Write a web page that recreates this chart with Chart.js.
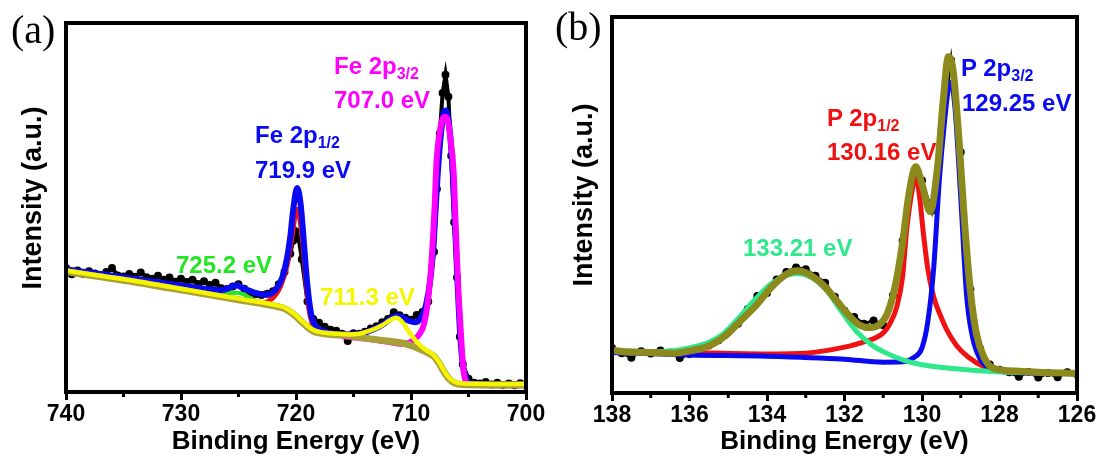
<!DOCTYPE html>
<html>
<head>
<meta charset="utf-8">
<title>XPS Fe 2p / P 2p</title>
<script src="https://cdn.jsdelivr.net/npm/chart.js@4.4.0/dist/chart.umd.min.js"></script>
<style>
  html, body { margin: 0; padding: 0; background: #fff; }
  #wrap { position: relative; width: 1102px; height: 463px; overflow: hidden; }
  canvas { position: absolute; top: 0; }
  #chartA { left: 0; }
  #chartB { left: 551px; }
  .tag { position: absolute; font-family: "Liberation Serif", "Times New Roman", serif; font-size: 40px; line-height: 40px; }
  .note { position: absolute; font-family: "Liberation Sans", Arial, sans-serif; font-weight: bold;
          font-size: 24px; line-height: 24px; white-space: nowrap; }
  .note sub { font-size: 16px; vertical-align: -5px; line-height: 0; }
</style>
</head>
<body>
<div id="wrap">
  <canvas id="chartA" width="551" height="463"></canvas>
  <canvas id="chartB" width="551" height="463"></canvas>
  <div class="tag" style="left:11px; top:10px;">(a)</div>
  <div class="tag" style="left:555px; top:7px;">(b)</div>
</div>
<script>
const FONT = "'Liberation Sans', Arial, sans-serif";

// ---- Fe 2p (panel a) ----
const feTicks = [740, 730, 720, 710, 700];
const feMinor = [735, 725, 715, 705];
const fePeaks = [707.0, 719.9, 725.2, 711.3];   // 2p3/2, 2p1/2, satellite, satellite

const feRawX = [740, 739.5, 739, 738.5, 738, 737.5, 737, 736.5, 736, 735.5, 735, 734.5, 734, 733.5, 733, 732.5,
  732, 731.5, 731, 730.5, 730, 729.5, 729, 728.5, 728, 727.5, 727, 726.5, 726, 725.5, 725, 724.5, 724, 723.5,
  723, 722.5, 722, 721.5, 721, 720.5, 720.25, 720, 719.75, 719.5, 719, 718.5, 718, 717.5, 717, 716.5, 716,
  715.5, 715, 714.5, 714, 713.5, 713, 712.5, 712, 711.5, 711, 710.5, 710, 709.5, 709, 708.5, 708, 707.75,
  707.5, 707.25, 707, 706.75, 706.5, 706.25, 706, 705.75, 705.5, 705, 704.5, 704, 703.5, 703, 702.5, 702,
  701.5, 701, 700.5, 700];
const feRawY = [33.6, 31.9, 32.9, 32.0, 32.7, 32.1, 31.6, 32.5, 33.6, 31.6, 31.3, 32.0, 31.2, 32.4, 31.1, 30.7,
  31.5, 30.4, 31.0, 29.9, 30.7, 29.8, 30.4, 29.3, 30.0, 29.0, 29.6, 28.1, 27.9, 28.6, 29.2, 28.0, 26.9, 26.5,
  26.3, 26.6, 27.3, 29.2, 32.5, 37.5, 41.0, 43.5, 41.5, 36.0, 24.5, 19.8, 18.8, 17.7, 16.9, 16.6, 15.8,
  13.8, 15.9, 15.8, 16.3, 17.2, 17.8, 18.9, 19.8, 21.6, 20.8, 20.1, 19.6, 20.9, 21.7, 24.5, 38.0, 55.0,
  70.0, 81.0, 86.0, 80.0, 64.0, 46.0, 31.0, 15.0, 7.5, 3.6, 2.5, 2.3, 2.7, 2.0, 2.5, 1.9,
  2.3, 1.8, 2.4, 2.1];

const feBgX = [740, 737, 734, 731, 728, 725, 723, 722, 721, 720.5, 720, 719.5, 719, 718.5, 718, 717, 715.5,
  714, 712, 710.5, 709.5, 708.5, 708, 707.5, 707, 706.6, 706.2, 705.5, 703, 700];
const feBgY = [32.6, 31.2, 29.8, 28.2, 26.6, 25.0, 24.0, 23.4, 22.6, 21.7, 20.5, 19.0, 17.6, 16.5, 16.0, 15.6, 15.3,
  14.6, 13.8, 13.1, 12.0, 10.6, 9.6, 7.5, 4.8, 3.3, 2.4, 2.0, 1.9, 1.9];

const feSat2X = [740, 737, 734, 731, 728, 725, 723, 722, 721, 720.5, 720, 719.5, 719, 718.5, 718, 717, 715.5,
  714.5, 713.5, 712.5, 711.8, 711.3, 710.8, 710.3, 709.8, 709.3, 708.8, 708.3, 708, 707.5, 707, 706.6, 706.2,
  705.5, 703, 700];
const feSat2Y = [32.9, 31.5, 30.1, 28.5, 26.9, 25.3, 24.3, 23.7, 22.9, 22.0, 20.8, 19.3, 17.9, 16.8, 16.3, 15.9, 15.6,
  15.8, 16.7, 18.1, 19.5, 20.1, 19.1, 16.9, 14.7, 12.9, 11.6, 10.6, 9.9, 7.8, 5.1, 3.6, 2.7,
  2.3, 2.2, 2.2];

const feSat1X = [740, 731, 728, 727, 726.3, 725.7, 725.2, 724.6, 724, 723.4, 722.8, 722, 721, 720, 719, 718, 716,
  712, 709.5, 708, 707, 706.2, 705.5, 700];
const feSat1Y = [32.6, 28.2, 26.7, 26.4, 26.5, 26.8, 26.9, 26.5, 25.5, 24.4, 23.9, 23.4, 22.6, 20.5, 17.6, 16.0, 15.2,
  13.8, 12.0, 9.6, 4.8, 2.4, 2.0, 1.9];

const feP12X = [740, 731, 728, 725, 723, 722.4, 721.8, 721.3, 720.8, 720.4, 720.1, 719.9, 719.7, 719.4, 719.15,
  718.9, 718.6, 718.2, 717.5, 716, 712, 709.5, 708, 707, 706.2, 705.5, 700];
const feP12Y = [32.6, 28.2, 26.6, 25.0, 24.1, 24.6, 26.2, 29.0, 34.0, 41.0, 47.5, 49.5, 47.5, 40.0, 30.5,
  23.0, 18.6, 16.6, 15.8, 15.3, 13.8, 12.0, 9.6, 4.8, 2.4, 2.0, 1.9];

const feP32X = [716, 714, 712, 711, 710.3, 709.7, 709.2, 708.9, 708.55, 708.2, 707.95, 707.77, 707.5, 707.25, 707.0,
  706.8, 706.55, 706.3, 706.15, 706.0, 705.85, 705.7, 705.5, 705.3, 705, 703, 700];
const feP32Y = [15.1, 14.5, 13.6, 13.1, 13.2, 14.2, 16.0, 18.0, 24.0, 36.0, 50.0, 63.0, 70.5, 74.0, 74.6,
  73.5, 68.0, 60.0, 48.0, 36.0, 26.0, 18.0, 8.0, 3.5, 2.2, 1.8, 1.8];

const feFitX = [740, 737, 734, 731, 728, 726.5, 725.8, 725.2, 724.5, 723.5, 722.5, 721.8, 721.2, 720.8, 720.5, 720.2,
  719.9, 719.6, 719.35, 719.1, 718.85, 718.6, 718.2, 717.5, 716, 714.5, 713.5, 712.5, 711.8, 711.3, 710.8,
  710.2, 709.6, 709.1, 708.7, 708.3, 708.0, 707.7, 707.4, 707.15, 707.0, 706.85, 706.6, 706.35, 706.1, 705.9,
  705.7, 705.5, 705.2, 704.8, 703, 700];
const feFitY = [33.2, 32.0, 30.6, 29.3, 28.0, 27.6, 28.2, 28.9, 28.0, 26.8, 26.4, 27.6, 31.0, 36.0, 42.0, 50.5,
  55.3, 51.0, 42.0, 32.0, 24.5, 20.0, 17.6, 16.4, 15.6, 15.7, 16.7, 18.2, 19.8, 20.6, 20.3,
  19.3, 18.9, 20.3, 23.5, 31.0, 42.0, 58.0, 70.0, 75.5, 76.3, 75.5, 70.0, 58.0, 40.0, 26.0,
  14.5, 7.5, 3.6, 2.3, 2.0, 2.0];

// ---- P 2p (panel b) ----
const pTicks = [138, 136, 134, 132, 130, 128, 126];
const pMinor = [137, 135, 133, 131, 129, 127];
const pPeaks = [129.25, 130.16, 133.21];   // 2p3/2, 2p1/2, oxidised P

const pRawX = [138, 137.75, 137.5, 137.25, 137, 136.75, 136.5, 136.25, 136, 135.75, 135.5, 135.25, 135, 134.75,
  134.5, 134.25, 134, 133.75, 133.5, 133.25, 133, 132.75, 132.5, 132.25, 132, 131.75, 131.5, 131.25, 131,
  130.75, 130.5, 130.25, 130, 129.75, 129.5, 129.25, 129, 128.75, 128.5, 128.25, 128, 127.75, 127.5, 127.25,
  127, 126.75, 126.5, 126.25, 126];
const pRawY = [12.0, 10.6, 9.4, 11.1, 10.5, 11.3, 10.8, 9.3, 10.4, 11.8, 12.6, 14.0, 16.2, 18.4,
  22.3, 25.8, 26.6, 30.2, 32.2, 33.4, 32.9, 31.2, 29.3, 25.6, 21.9, 20.2, 18.4, 19.3, 18.0,
  26.0, 40.5, 56.5, 56.5, 48.5, 69.0, 88.5, 64.0, 27.5, 11.8, 7.6, 6.2, 5.5, 4.3, 5.6,
  4.1, 5.3, 4.2, 5.5, 5.0];

const pFitX = [138, 137.7, 137, 136.4, 136, 135.5, 135.1, 134.7, 134.27, 133.9, 133.5, 133.21, 133.0, 132.55, 132.2,
  131.86, 131.6, 131.34, 131.1, 130.9, 130.7, 130.5, 130.35, 130.16, 130.0, 129.79, 129.6, 129.45, 129.32, 129.2,
  129.05, 128.9, 128.75, 128.6, 128.4, 128.16, 127.5, 127, 126];
const pFitY = [11.4, 11.0, 10.8, 10.6, 11.2, 12.5, 15.0, 19.0, 23.4, 28.0, 31.6, 32.5, 32.0, 28.7, 24.5,
  20.3, 18.0, 17.4, 18.2, 21.0, 28.0, 40.0, 52.0, 60.2, 55.5, 48.2, 60.0, 78.0, 89.4, 86.0,
  68.0, 45.0, 27.0, 16.0, 9.5, 6.6, 5.8, 5.5, 5.2];

const pOxX = [138, 137, 136.5, 136, 135.5, 135.1, 134.7, 134.3, 133.9, 133.5, 133.21, 132.9, 132.5, 132.1, 131.7,
  131.3, 131.0, 130.5, 130, 129, 128, 127, 126];
const pOxY = [11.4, 11.0, 11.2, 12.0, 13.5, 16.0, 20.3, 25.0, 29.0, 31.3, 31.8, 31.0, 27.8, 22.0, 16.5,
  12.8, 11.0, 8.8, 7.5, 6.3, 5.6, 5.3, 5.2];

const pP12X = [138, 136, 134, 133, 132, 131.5, 131.0, 130.8, 130.65, 130.5, 130.4, 130.3, 130.16, 130.06, 129.97,
  129.85, 129.7, 129.5, 129.36, 129.1, 128.8, 128.4, 128, 127, 126];
const pP12Y = [11.2, 10.8, 10.4, 10.6, 12.2, 13.6, 16.0, 19.0, 23.0, 31.0, 43.0, 51.0, 57.5, 52.0, 43.0,
  33.0, 25.6, 20.0, 16.8, 12.5, 9.5, 7.0, 6.0, 5.4, 5.2];

const pP32X = [138, 136, 134, 132, 131, 130.5, 130.2, 130.0, 129.85, 129.7, 129.55, 129.42, 129.3, 129.25, 129.15,
  129.0, 128.85, 128.7, 128.5, 128.3, 128, 127, 126];
const pP32Y = [10.8, 10.1, 9.8, 9.0, 8.2, 8.3, 9.5, 12.0, 19.0, 33.0, 57.0, 72.0, 82.0, 82.6, 76.0,
  52.0, 26.0, 15.0, 9.0, 6.8, 5.8, 5.3, 5.1];

// colours
const C = {
  black: '#000000', blue: '#0a0af2', red: '#f01212', magenta: '#ff00ff', green: '#22e622',
  yellow: '#f5f500', olive: '#aaa038', oliveB: '#8c8a1c', mint: '#2ee88c'
};

function series(xs, ys, color, width, order, extra) {
  return Object.assign({
    data: xs.map((x, i) => ({ x: x, y: ys[i] })),
    borderColor: color, backgroundColor: color, borderWidth: width,
    pointRadius: 0, fill: false, order: order,
    cubicInterpolationMode: 'monotone'
  }, extra || {});
}

// thick box round the plot area, small minor ticks under the x axis,
// and the rotated intensity label a bit above the middle of the box
const framePlugin = {
  id: 'frame',
  afterDatasetsDraw(chart, args, opts) {
    const { ctx, chartArea: a } = chart;
    const xs = chart.scales.x;
    ctx.save();
    ctx.strokeStyle = '#000';
    ctx.lineWidth = 4;
    ctx.strokeRect(a.left, a.top, a.right - a.left, a.bottom - a.top);
    ctx.lineWidth = 3;
    (opts.minor || []).forEach(v => {
      const px = xs.getPixelForValue(v);
      ctx.beginPath();
      ctx.moveTo(px, a.bottom);
      ctx.lineTo(px, a.bottom + 5);
      ctx.stroke();
    });
    ctx.translate(opts.titleX, opts.titleY);
    ctx.rotate(-Math.PI / 2);
    ctx.font = 'bold 27px ' + FONT;
    ctx.fillStyle = '#000';
    ctx.textAlign = 'center';
    ctx.textBaseline = 'middle';
    ctx.fillText(opts.title, 0, 0);
    ctx.restore();
  }
};

function makePanel(id, opt) {
  return new Chart(document.getElementById(id), {
    type: 'line',
    data: { datasets: opt.datasets },
    options: {
      responsive: false,
      animation: false,
      layout: { padding: { left: 0, top: opt.top, right: 25, bottom: 0 } },
      plugins: {
        legend: { display: false }, tooltip: { enabled: false },
        frame: { minor: opt.minor, title: 'Intensity (a.u.)', titleX: 34, titleY: opt.titleY }
      },
      scales: {
        x: {
          type: 'linear', min: opt.min, max: opt.max, reverse: true,
          afterBuildTicks: s => { s.ticks = opt.ticks.map(v => ({ value: v })); },
          afterFit: s => { s.height = opt.axisHeight; },
          ticks: { font: { family: FONT, size: 23, weight: 'bold' }, color: '#000', padding: 1,
                   maxRotation: 0, autoSkip: false },
          grid: { drawOnChartArea: false, drawTicks: true, tickLength: 8, tickWidth: 3, tickColor: '#000' },
          border: { display: false },
          title: { display: true, text: 'Binding Energy (eV)', color: '#000',
                   font: { family: FONT, size: 26, weight: 'bold' }, padding: { top: 0, bottom: 6 } }
        },
        y: {
          type: 'linear', min: 0, max: 100,
          afterFit: s => { s.width = opt.left; },
          ticks: { display: false },
          grid: { display: false },
          border: { display: false }
        }
      }
    },
    plugins: [framePlugin]
  });
}

makePanel('chartA', {
  min: 700, max: 740, ticks: feTicks, minor: feMinor, top: 23, left: 66, axisHeight: 71, titleY: 198,
  datasets: [
    series(feSat2X, feSat2Y, C.yellow, 4.5, 1),
    series(feBgX, feBgY, C.olive, 7, 2),
    series(feP32X, feP32Y, C.magenta, 6, 3),
    series(feFitX, feFitY, C.blue, 6, 4),
    series(feP12X, feP12Y, C.red, 5, 5),
    series(feSat1X, feSat1Y, C.green, 4, 6),
    series(feRawX, feRawY, C.black, 4, 7, { cubicInterpolationMode: 'default', tension: 0, pointRadius: 2 })
  ]
});

makePanel('chartB', {
  min: 126, max: 138, ticks: pTicks, minor: pMinor, top: 17, left: 61, axisHeight: 70, titleY: 195,
  datasets: [
    series(pFitX, pFitY, C.oliveB, 7, 1),
    series(pOxX, pOxY, C.mint, 5, 2),
    series(pP32X, pP32Y, C.blue, 5, 3),
    series(pP12X, pP12Y, C.red, 5, 4),
    series(pRawX, pRawY, C.black, 3, 5, { cubicInterpolationMode: 'default', tension: 0, pointRadius: 2.5 })
  ]
});

// peak annotations, energies taken from the same values the peaks are drawn at
function note(left, top, color, html) {
  const d = document.createElement('div');
  d.className = 'note';
  d.style.left = left + 'px';
  d.style.top = top + 'px';
  d.style.color = color;
  d.innerHTML = html;
  document.getElementById('wrap').appendChild(d);
}
const ev = (v, n) => v.toFixed(n) + ' eV';

note(334, 54, C.magenta, 'Fe 2p<sub>3/2</sub>');
note(334, 88, C.magenta, ev(fePeaks[0], 1));
note(255, 123, C.blue, 'Fe 2p<sub>1/2</sub>');
note(255, 158, C.blue, ev(fePeaks[1], 1));
note(176, 253, C.green, ev(fePeaks[2], 1));
note(320, 285, C.yellow, ev(fePeaks[3], 1));

note(961, 56, C.blue, 'P 2p<sub>3/2</sub>');
note(962, 91, C.blue, ev(pPeaks[0], 2));
note(827, 106, C.red, 'P 2p<sub>1/2</sub>');
note(827, 140, C.red, ev(pPeaks[1], 2));
note(743, 236, C.mint, ev(pPeaks[2], 2));
</script>
</body>
</html>
